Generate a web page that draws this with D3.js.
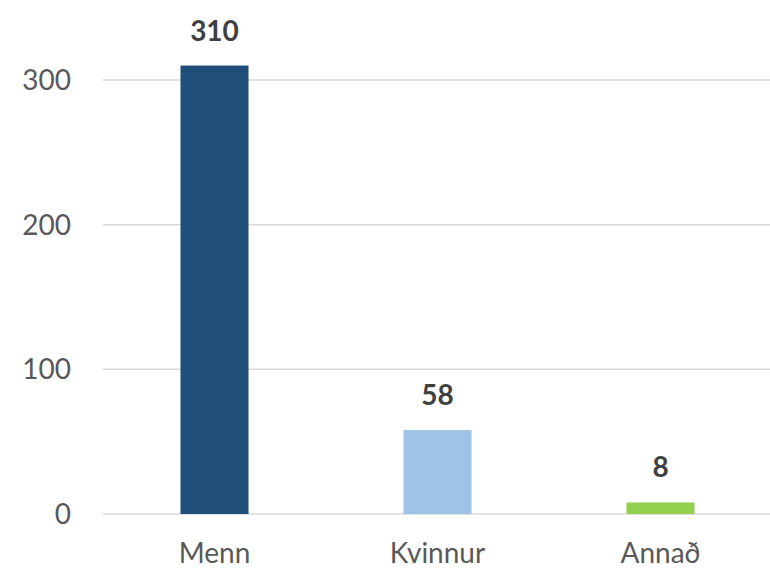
<!DOCTYPE html>
<html>
<head>
<meta charset="utf-8">
<script src="https://cdn.jsdelivr.net/npm/d3@7"></script>
<style>
  body { margin: 0; background: #fff; }
  svg text { font-family: Lato, "Open Sans", sans-serif; }
</style>
</head>
<body>
<svg id="chart" width="770" height="570"></svg>
<script>
var categories = ['Menn', 'Kvinnur', 'Annað'];
var values = [310, 58, 8];
var colors = ['#1f4e79', '#9dc3e6', '#92d050'];
var yTicks = [0, 100, 200, 300];

var svg = d3.select('#chart');

var x = d3.scaleBand()
    .domain(categories)
    .range([103, 772])
    .paddingInner(0.695)
    .paddingOuter(0.3475);

var y = d3.scaleLinear()
    .domain([0, 300])
    .range([514, 80]);

// gridlines
svg.append('g').selectAll('line').data(yTicks).enter().append('line')
    .attr('x1', 103).attr('x2', 770)
    .attr('y1', function(d){ return y(d); })
    .attr('y2', function(d){ return y(d); })
    .attr('stroke', '#d9d9d9')
    .attr('stroke-width', 1.5);

// y tick labels
svg.append('g').selectAll('text').data(yTicks).enter().append('text')
    .attr('x', 71)
    .attr('y', function(d){ return y(d); })
    .attr('dy', '0.36em')
    .attr('text-anchor', 'end')
    .attr('font-size', 28)
    .attr('fill', '#595959')
    .text(function(d){ return d; });

// bars
svg.append('g').selectAll('rect').data(values).enter().append('rect')
    .attr('x', function(d, i){ return x(categories[i]); })
    .attr('width', x.bandwidth())
    .attr('y', function(d){ return y(d); })
    .attr('height', function(d){ return y(0) - y(d); })
    .attr('fill', function(d, i){ return colors[i]; });

// value labels
svg.append('g').selectAll('text').data(values).enter().append('text')
    .attr('x', function(d, i){ return x(categories[i]) + x.bandwidth() / 2; })
    .attr('y', function(d){ return y(d) - 25; })
    .attr('text-anchor', 'middle')
    .attr('font-size', 28)
    .attr('font-weight', 'bold')
    .attr('fill', '#404040')
    .text(function(d){ return d; });

// category labels
svg.append('g').selectAll('text').data(categories).enter().append('text')
    .attr('x', function(d){ return x(d) + x.bandwidth() / 2; })
    .attr('y', 563)
    .attr('text-anchor', 'middle')
    .attr('font-size', 28)
    .attr('fill', '#595959')
    .text(function(d){ return d; });
</script>
</body>
</html>
